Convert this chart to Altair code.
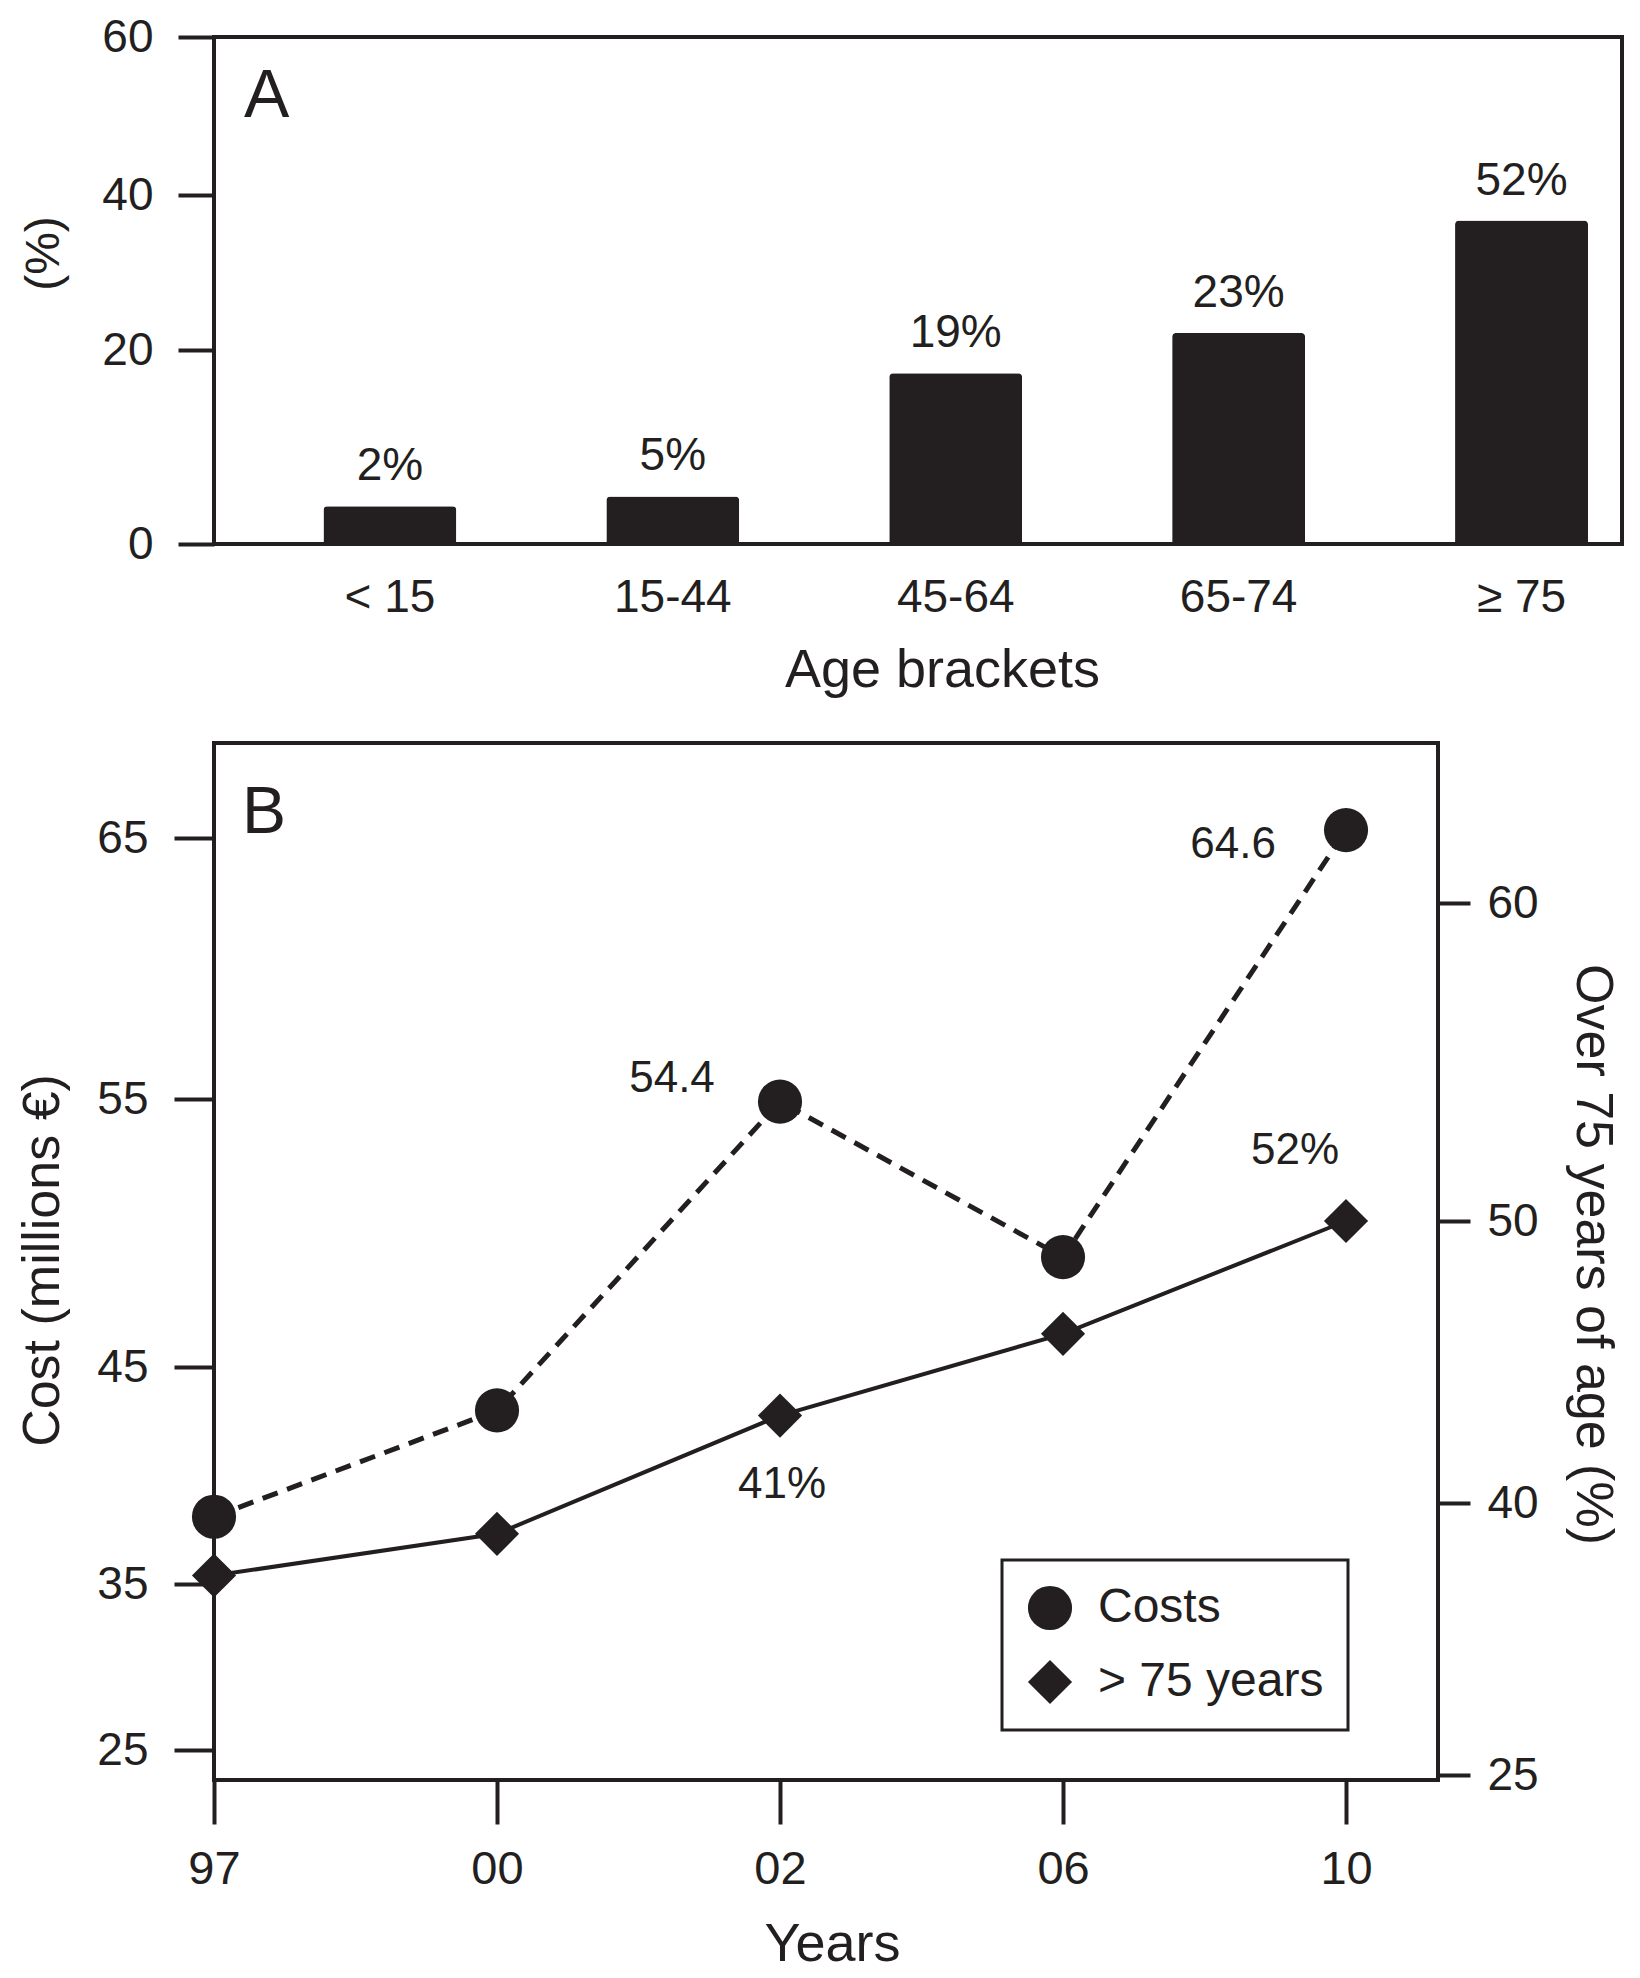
import altair as alt
import pandas as pd

# ---------------- data ----------------
# Panel A
age_brackets = ["< 15", "15-44", "45-64", "65-74", "≥ 75"]
bar_heights = [3.9, 4.9, 17.6, 22.2, 36.7]
bar_labels = ["2%", "5%", "19%", "23%", "52%"]
pct_ticks = [0, 20, 40, 60]

# Panel B
years = ["97", "00", "02", "06", "10"]
costs = [38.1, 43.0, 54.9, 49.1, 65.3]
over75 = [36.0, 38.3, 43.1, 46.0, 50.0]
cost_notes = ["", "", "54.4", "", "64.6"]
over75_notes = ["", "", "41%", "", "52%"]
cost_ticks = [25, 35, 45, 55, 65]
over75_ticks = [25, 40, 50, 60]
series_names = ["Costs", "> 75 years"]

# ---------------- style ----------------
FONT = "Liberation Sans"
INK = "#231f20"

W_A, H_A = 1408, 507
W_B, H_B = 1224, 1037

# ---------------- Panel A ----------------
bars_df = pd.DataFrame({"age": age_brackets, "value": bar_heights, "label": bar_labels})

xA = alt.X(
    "age:N", sort=age_brackets,
    scale=alt.Scale(paddingInner=0.53, paddingOuter=0.2535, align=0.763),
    axis=alt.Axis(title="Age brackets", labelAngle=0, ticks=False, labelPadding=31,
                  labelFontSize=46, titleFontSize=54, titleX=728, titleY=126,
                  titleBaseline="middle", titleAlign="center"),
)
yA = alt.Y(
    "value:Q",
    scale=alt.Scale(domain=pct_ticks, range=[H_A, 313, 158, 0], nice=False, zero=False),
    axis=alt.Axis(values=pct_ticks, title="(%)", tickSize=36, labelPadding=25,
                  labelFontSize=46, titleFontSize=48, titleX=-170, titleY=216,
                  titleAngle=270, titleBaseline="middle", titleAlign="center"),
)
baseA = alt.Chart(bars_df).encode(x=xA, y=yA)
bars = baseA.mark_bar(color=INK, cornerRadiusTopLeft=4, cornerRadiusTopRight=4)
bar_text = baseA.mark_text(baseline="alphabetic", dy=-26, fontSize=46, font=FONT,
                           color=INK).encode(text="label:N")
letterA = alt.Chart(pd.DataFrame({"t": ["A"]})).mark_text(
    align="left", baseline="alphabetic", fontSize=68, font=FONT, color=INK
).encode(x=alt.value(30), y=alt.value(80), text="t:N")

panelA = alt.layer(bars, bar_text, letterA).properties(width=W_A, height=H_A)

# ---------------- Panel B ----------------
idx = list(range(len(years)))
cost_df = pd.DataFrame({"year": years, "value": costs, "note": cost_notes,
                        "series": series_names[0], "idx": idx})
over_df = pd.DataFrame({"year": years, "value": over75, "note": over75_notes,
                        "series": series_names[1], "idx": idx})

xB = alt.X(
    "year:N", sort=years,
    scale=alt.Scale(type="point", padding=0.1625, align=0),
    axis=alt.Axis(title="Years", labelAngle=0, tickSize=44, labelPadding=22,
                  labelFontSize=47, titleFontSize=54, titleX=618, titleY=164,
                  titleBaseline="middle", titleAlign="center"),
)

shape_enc = alt.Shape(
    "series:N",
    scale=alt.Scale(domain=series_names, range=["circle", "diamond"]),
    legend=alt.Legend(title=None, orient="none", legendX=788, legendY=817),
)

y_cost = alt.Y(
    "value:Q",
    scale=alt.Scale(domain=[23.2] + cost_ticks + [68.6],
                    range=[H_B, 1007, 841, 624, 356, 95, 0], nice=False, zero=False),
    axis=alt.Axis(values=cost_ticks, title="Cost (millions €)", orient="left",
                  tickSize=40, labelPadding=26, labelFontSize=46, titleFontSize=52,
                  titleX=-172, titleY=517, titleAngle=270,
                  titleBaseline="middle", titleAlign="center"),
)
y_over = alt.Y(
    "value:Q",
    scale=alt.Scale(domain=[24.7] + over75_ticks + [65.0],
                    range=[H_B, 1032, 760, 478, 160, 0], nice=False, zero=False),
    axis=alt.Axis(values=over75_ticks, title="Over 75 years of age (%)", orient="right",
                  tickSize=32, labelPadding=17, labelFontSize=46, titleFontSize=52,
                  titleX=154, titleY=511, titleAngle=90,
                  titleBaseline="middle", titleAlign="center"),
)

note_style = {
    "Costs": {"02": (-108, -23), "10": (-113, 15)},
    "> 75 years": {"02": (2, 69), "10": (-51, -70)},
}


def series_layer(df, y_enc, line_kwargs):
    base = alt.Chart(df).encode(x=xB, y=y_enc)
    line = base.mark_line(color=INK, **line_kwargs).encode(order=alt.Order("idx:Q"))
    pts = base.mark_point(filled=True, size=1950, opacity=1, color=INK).encode(shape=shape_enc)
    layers = [line, pts]
    name = df["series"].iloc[0]
    for yr, (ddx, ddy) in note_style[name].items():
        layers.append(
            base.transform_filter(alt.datum.year == yr)
            .mark_text(dx=ddx, dy=ddy, fontSize=44, font=FONT, color=INK,
                       align="center", baseline="middle")
            .encode(text="note:N")
        )
    return alt.layer(*layers)


left = series_layer(cost_df, y_cost, {"strokeWidth": 5, "strokeDash": [16, 10]})
right = series_layer(over_df, y_over, {"strokeWidth": 4})

letterB = alt.Chart(pd.DataFrame({"t": ["B"]})).mark_text(
    align="left", baseline="alphabetic", fontSize=66, font=FONT, color=INK
).encode(x=alt.value(28), y=alt.value(90), text="t:N")

panelB = (
    alt.layer(left, right, letterB)
    .resolve_scale(y="independent")
    .properties(width=W_B, height=H_B)
)

chart = (
    alt.vconcat(panelA, panelB, spacing=42)
    .resolve_scale(shape="independent")
    .resolve_legend(shape="independent")
    .properties(padding={"left": 6, "top": 4, "right": 0, "bottom": 0})
    .configure(background="white", font=FONT)
    .configure_view(stroke=INK, strokeWidth=4)
    .configure_axis(labelFont=FONT, titleFont=FONT, labelColor=INK, titleColor=INK,
                    tickColor=INK, tickWidth=4, domain=False, grid=False,
                    titleFontWeight="normal")
    .configure_legend(labelFont=FONT, labelFontSize=48, labelColor=INK, labelLimit=500,
                      labelOffset=24, padding=24, rowPadding=26, symbolSize=1950,
                      symbolFillColor=INK, symbolStrokeWidth=0, symbolOpacity=1,
                      strokeColor=INK, strokeWidth=3, fillColor="white", cornerRadius=0)
)

chart.save("out.html", embed_options={"renderer": "svg", "actions": False})
